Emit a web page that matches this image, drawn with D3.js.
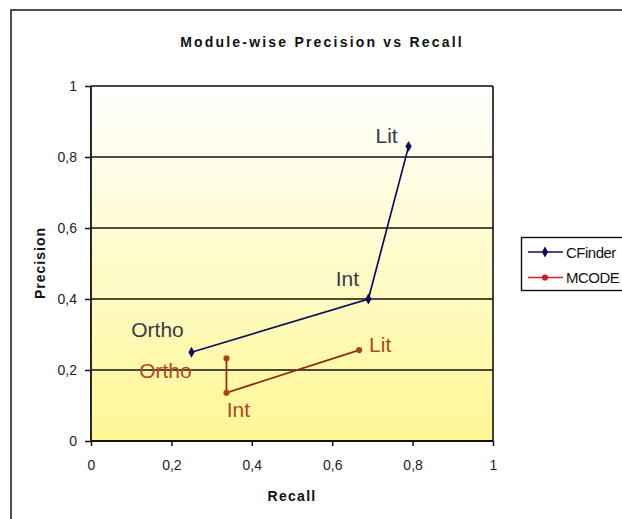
<!DOCTYPE html>
<html>
<head>
<meta charset="utf-8">
<script src="https://cdn.jsdelivr.net/npm/d3@7"></script>
<style>
  html, body { margin: 0; padding: 0; background: #ffffff; }
  svg { display: block; font-family: "Liberation Sans", Arial, sans-serif; }
</style>
</head>
<body>
<svg id="chart" width="622" height="519"></svg>
<script>
// ---- data ----
const pointLabels = ["Ortho", "Int", "Lit"];
const seriesNames = ["CFinder", "MCODE"];
const cfinderRecall = [0.25, 0.69, 0.79];
const cfinderPrecision = [0.25, 0.40, 0.83];
const mcodeRecall = [0.337, 0.337, 0.667];
const mcodePrecision = [0.233, 0.136, 0.256];
const tickValues = [0, 0.2, 0.4, 0.6, 0.8, 1];
const titleText = "Module-wise Precision vs Recall";
const xTitle = "Recall";
const yTitle = "Precision";

// ---- styles / layout ----
const styles = [
  { line: "#0d0d5c", marker: "#0d0d5c", label: "#3a3a48", legendLine: "#0d0d5c", symbol: d3.symbolDiamond, size: 34,
    offsets: [[-34, -15], [-21, -13], [-22, -3]] },
  { line: "#8e2a10", marker: "#b3401a", label: "#b8461c", legendLine: "#cc1f2a", symbol: d3.symbolCircle, size: 30,
    offsets: [[-61, 20], [12, 24], [21, 2]] }
];

const series = [
  { name: seriesNames[0], x: cfinderRecall, y: cfinderPrecision },
  { name: seriesNames[1], x: mcodeRecall, y: mcodePrecision }
];

const svg = d3.select("#chart");
const x = d3.scaleLinear().domain([0, 1]).range([91, 493]);
const y = d3.scaleLinear().domain([0, 1]).range([441, 86]);
const fmt = d => String(d).replace(".", ",");

// outer frame
svg.append("rect").attr("x", 11).attr("y", 10).attr("width", 640).attr("height", 540)
  .attr("fill", "#fff").attr("stroke", "#222").attr("stroke-width", 1.6);

// gradient
const defs = svg.append("defs");
const grad = defs.append("linearGradient").attr("id", "bg").attr("x1", 0).attr("y1", 0).attr("x2", 0).attr("y2", 1);
grad.append("stop").attr("offset", "0%").attr("stop-color", "#ffffff");
grad.append("stop").attr("offset", "100%").attr("stop-color", "#fff795");

svg.append("rect").attr("x", x(0)).attr("y", y(1)).attr("width", x(1) - x(0)).attr("height", y(0) - y(1))
  .attr("fill", "url(#bg)");

// gridlines
svg.append("g").selectAll("line").data(tickValues.filter(d => d > 0)).join("line")
  .attr("x1", x(0)).attr("x2", x(1)).attr("y1", d => y(d)).attr("y2", d => y(d))
  .attr("stroke", "#111").attr("stroke-width", 1.6);

// right border
svg.append("line").attr("x1", x(1)).attr("x2", x(1)).attr("y1", y(1)).attr("y2", y(0))
  .attr("stroke", "#111").attr("stroke-width", 1.6);

// axes
const xAxis = svg.append("g").attr("transform", `translate(0,${y(0)})`)
  .call(d3.axisBottom(x).tickValues(tickValues).tickFormat(fmt).tickSize(5).tickPadding(14));
const yAxis = svg.append("g").attr("transform", `translate(${x(0)},0)`)
  .call(d3.axisLeft(y).tickValues(tickValues).tickFormat(fmt).tickSize(6).tickPadding(8));
[xAxis, yAxis].forEach(g => {
  g.select(".domain").attr("stroke", "#111").attr("stroke-width", 1.8);
  g.selectAll(".tick line").attr("stroke", "#111").attr("stroke-width", 1.5);
  g.selectAll(".tick text").attr("fill", "#222").attr("font-size", 14)
    .attr("font-family", "'Liberation Sans', Arial, sans-serif");
});
yAxis.select(".domain").attr("d", `M0,${y(0)}V${y(1)}`);
xAxis.select(".domain").attr("d", `M${x(0)},0H${x(1)}`);

// title & axis titles
svg.append("text").attr("x", 322).attr("y", 47).attr("text-anchor", "middle")
  .attr("font-size", 14).attr("font-weight", "bold").attr("letter-spacing", 2.2).attr("fill", "#111")
  .text(titleText);
svg.append("text").attr("x", 292).attr("y", 501).attr("text-anchor", "middle")
  .attr("font-size", 14).attr("font-weight", "bold").attr("letter-spacing", 1.3).attr("fill", "#111")
  .text(xTitle);
svg.append("text").attr("transform", `translate(45,263) rotate(-90)`).attr("text-anchor", "middle")
  .attr("font-size", 14).attr("font-weight", "bold").attr("letter-spacing", 1).attr("fill", "#111")
  .text(yTitle);

// series
const line = d3.line().x(d => x(d[0])).y(d => y(d[1]));
series.forEach((s, i) => {
  const st = styles[i];
  const pts = s.x.map((v, j) => [v, s.y[j]]);
  svg.append("path").datum(pts).attr("d", line).attr("fill", "none")
    .attr("stroke", st.line).attr("stroke-width", 1.7);
  svg.append("g").selectAll("path").data(pts).join("path")
    .attr("transform", d => `translate(${x(d[0])},${y(d[1])})`)
    .attr("d", d3.symbol().type(st.symbol).size(st.size)).attr("fill", st.marker);
  svg.append("g").selectAll("text").data(pts).join("text")
    .attr("x", (d, j) => x(d[0]) + st.offsets[j][0])
    .attr("y", (d, j) => y(d[1]) + st.offsets[j][1])
    .attr("text-anchor", "middle").attr("font-size", 21).attr("fill", st.label)
    .text((d, j) => pointLabels[j]);
});

// legend
const lg = svg.append("g");
lg.append("rect").attr("x", 521.5).attr("y", 237.5).attr("width", 120).attr("height", 53)
  .attr("fill", "#fff").attr("stroke", "#111").attr("stroke-width", 1.4);
series.forEach((s, i) => {
  const st = styles[i];
  const ly = 252 + i * 25.5;
  lg.append("line").attr("x1", 528).attr("x2", 563).attr("y1", ly).attr("y2", ly)
    .attr("stroke", st.legendLine).attr("stroke-width", 1.7);
  lg.append("path").attr("transform", `translate(545,${ly})`)
    .attr("d", d3.symbol().type(st.symbol).size(st.size)).attr("fill", st.legendLine);
  lg.append("text").attr("x", 566).attr("y", ly + 5.5).attr("font-size", 15).attr("fill", "#111")
    .attr("letter-spacing", -0.5).text(s.name);
});
</script>
</body>
</html>
